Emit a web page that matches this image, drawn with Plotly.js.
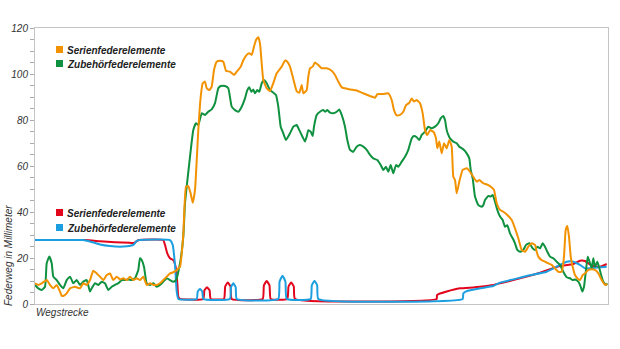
<!DOCTYPE html>
<html>
<head>
<meta charset="utf-8">
<script src="https://cdn.plot.ly/plotly-3.0.1.min.js"></script>
<style>html,body{margin:0;padding:0;background:#fff;}#chart{width:620px;height:349px;}</style>
</head>
<body>
<div id="chart"></div>
<script>
// Federweg (mm) entlang der Wegstrecke (x: arbitrary distance units)
const serienX = [0,3.3,6.7,11.7,15,18.3,21.7,25,26.7,28.3,31.7,35,40,45,48.3,51.7,55,58.3,61.7,65,68.3,71.7,75,78.3,81.7,85,88.3,91.7,95,98.3,101.7,105,108.3,111.7,115,118.3,121.7,125,128.3,131.7,135,138.3,141.7,145,148.3,151,153.3,155.7,157.7,160,163.3,165.7,167.7,170,171.7,174.3,176.7,179,181.7,185,188.3,191,195,199,201.7,205.7,208.3,211.7,214.3,216.7,219,221,223.3,225,226.7,228.3,231.7,235,238.3,241.7,246.7,250,252.3,255,258.3,261.7,264.3,266.7,268.3,271.7,273.3,275,277.7,280,283.3,286.7,291.7,296.7,300,303.3,306.7,310,315,321.7,328.3,335,340,342.3,348.3,353.3,356.7,359,361.7,365,368.3,371,374.3,376.7,379,381.7,385,387.7,390,392.3,395,398.3,401,402.3,404.3,406.7,409,411.7,414.3,416.7,418.3,420,421.7,424.3,427.7,431.7,435,438.3,441.7,444.3,448.3,453.3,456.7,459,461.7,465,468.3,472.3,476.7,480,483.3,486.7,490,493.3,496.7,500,501.7,503.3,506.7,510,513.3,516.7,520,523.3,526.7,529,530.7,532.3,534,535.7,537.7,540,542.3,545,547.7,550,553.3,556.7,560,563.3,566.7,570,572.3];
const serienY = [9.0,8.3,9.0,10.4,8.3,6.8,8.3,5.4,3.6,3.5,4.6,6.8,7.5,6.8,9.0,8.3,10.4,14.5,13.3,11.9,10.4,12.6,13.3,10.4,11.9,10.7,11.2,10.4,11.9,10.4,11.2,10.4,11.9,8.3,9.0,8.3,8.3,9.0,10.4,11.9,13.3,13.8,14.8,16.2,30,51,51.3,48,44,49.6,75.6,90,96,96.7,93.8,93,94.5,101.7,105.3,105.8,105.3,101.4,101,99.6,101,103.2,106,108.3,109,108.3,111.9,114.8,116,113.3,104.6,97.4,93.8,92.6,96,100.3,103.2,105.8,105.3,103.2,97.8,92.5,91.8,95.2,91.6,93,98.8,102.5,103.2,105,103.9,102.5,102.5,101.4,99.6,96.7,94.2,93.8,93.3,92.8,91.6,90.4,89.7,91.2,91.3,91.6,88.7,84.3,82,82.2,83.6,86.5,87.5,89.4,88,88.7,87.3,82.9,75.6,73.5,75.6,74.9,72,67.7,70.6,65.5,69.9,67.7,71.3,68.4,55.3,53.9,48.1,53.2,58.3,59,57.5,55.3,53.2,53.9,52.5,51.7,50.7,49.6,43.8,40.9,40.1,38.7,36.5,32.9,28.6,23.5,22.7,24.9,26.4,25.7,22.7,20.6,19.1,18.4,17.7,17,15.5,14,14,20.6,32.2,33.9,29.3,20.6,16.2,12.6,11.2,10.4,12.6,13.3,14.8,15.1,14.8,13.3,10.4,8.3,8.7];

const zubehoerX = [0,3.3,6.7,10,11.7,14.3,16.7,18.3,21.7,25,28.3,31.7,35,38.3,41.7,45,48.3,51.7,55,56.7,60,63.3,66.7,70,73.3,76.7,80,83.3,86.7,90,93.3,96.7,100,103.3,105,106.7,109,111.7,115,118.3,121.7,125,128.3,131.7,135,138.3,141,145,148.3,150,151.7,155,158.3,161,163.3,166.7,170,173.3,176.7,180,183.3,185.7,190,193.3,196.7,200,203.3,206.7,210,212.3,214.3,216.3,218.3,220,222.3,224.3,226.7,229,231.7,235,238.3,241,243.3,245.7,248.3,251,255,258.3,261.7,264.3,267.7,270,271.7,273.3,275.7,277.7,279,281.7,285,288.3,290,292.3,295,298.3,301.7,304.3,306.7,310,312.3,315,318.3,321.7,325,328.3,331.7,335,338.3,342.3,345.7,348.3,351,353.3,355.7,358.3,361,363.3,366.7,370,373.3,376.7,379,381.7,384.3,386.7,390,393.3,396.7,400,403.3,405.7,408.3,410,411.7,413.3,415,418.3,421.7,424.3,426.7,429,431.7,434.3,435.7,437.7,440,443.3,446.7,448.3,450,453.3,455.7,457.7,460,462.3,465,467.7,470,472.3,475,477.7,480,482.3,485,488.3,491,494.3,497.7,500,502.3,505,507.7,510,512.3,515,518.3,521.7,525,528.3,531.7,535,537.7,540,543.3,545.7,547.3,549,551,552.7,555,556.7,558.3,560,562.3,564,565.7,568.3,571,572.3];
const zubehoerY = [8.3,6.8,6.1,7.5,17.7,20.6,17.7,11.9,10.4,8.3,6.8,10.4,11.9,9.0,10.4,8.3,9.7,10.4,5.4,6.8,9.0,8.3,9.7,9.0,6.1,7.5,8.3,9.0,10.4,10.4,10.7,10.4,11.2,14.8,19.9,19.1,16.2,9.0,8.3,9.0,7.5,8.3,9.7,11.2,10.4,9.7,10.4,17.7,29.3,43.8,51,64,75.6,78.6,77.8,82.9,82.2,83.6,84.6,87.3,93.8,94.8,94.8,93.8,85.8,84.3,83.6,85.8,89.4,93,94.2,92.3,93.3,91.6,93,92.3,96,97.4,96,93,91.9,90.9,85.8,77.1,74.2,71.3,74.2,77.1,77.8,75.6,72.5,70.6,72.8,75.6,74.9,73,77.1,82.2,83.6,84.3,83.6,84.3,83.2,82.9,83.6,84.6,82.2,77.1,71.3,67,66.2,68.4,69.1,68.4,67,64.8,63.3,62.6,60.4,58.3,59.7,57.5,60.4,56.8,60.4,59.7,61.9,64,67,72,73,72.5,71.3,73.5,74.9,77.1,76.4,77.1,78.6,80.7,81.7,80,75.6,73.5,72,70.6,69.9,68.4,67.7,67,65.5,63.3,58.3,54.6,46.7,43,42.3,43,45.2,47,46.7,47.4,44.5,40.9,38,36.5,33.6,34.3,30.7,28.6,26.4,23.5,22.7,23.5,25.7,26.4,24.2,23.5,24.9,24.2,26.4,24.9,22.7,20.6,19.9,18.4,17,14,11.6,11.2,10.4,10.7,9.7,7.5,5.4,7.5,14.8,20.6,17.7,15.5,19.9,16.2,18.4,16.2,13.3,9.7,8.3,9.0];

const serienUntenX = [0,50,65,80,95,99,102,104,128.3,130,132.3,135,138.3,141,142.5,143.3,145,168.3,169.4,172,174.6,175.7,189,190.2,192.8,195.5,196.7,227.7,228.9,231.7,234.5,235.7,252.3,253.5,256.2,258.8,260,401.7,402,411.7,425,438.3,445,458.3,465,478.3,491.7,505,515,525,538.3,545,550,553.3,558.3,565,571.7];
const serienUntenY = [27.8,27.8,27.3,26.9,26.6,26.5,27.4,27.8,27.8,25.7,22,19.9,19.1,15.5,8,3.2,2.2,2.2,5.9,7.3,5.9,2.2,2.2,7.6,9.4,7.6,2.2,2.2,8.1,10,8.1,2.2,2.2,7.6,9.4,7.6,2.2,2.2,3.9,5.4,6.8,7.2,7.5,8.3,9.0,10.4,11.9,13.6,15.1,16.5,17.4,18.8,18.7,17.7,16.5,16.2,17.4];

const zubehoerUntenX = [0,48,55,65,75,85,92,98.3,101.7,105,135,137.7,140,141.7,143.3,161.7,162.7,165,167.3,168.3,195,196,198.3,200.7,201.7,243.3,244.6,247.5,250.4,251.7,275.7,276.8,279.5,282.2,283.3,427.7,428.3,431.7,445,458.3,465,478.3,491.7,511.7,525,531.7,538.3,545,550,558.3,565,571.7];
const zubehoerUntenY = [27.8,27.8,27.2,25.9,25.2,24.9,25.1,25.7,27.4,27.8,27.8,25.7,17,5.4,2.2,2.2,5.4,6.5,5.4,2.2,2.2,7.3,9,7.3,2.2,2.2,9.8,12.3,9.8,2.2,2.2,8.1,10.1,8.1,2.2,2.2,4.6,5.6,6.8,7.8,9.3,10.7,12.2,14,17,18.4,18.4,17,15.5,15.6,16,16.2];

const yTicks = [0,20,40,60,80,100,120];
const legendOben = ["Serienfederelemente","Zubehörfederelemente"];
const legendUnten = ["Serienfederelemente","Zubehörfederelemente"];

const C_OR = '#f39200', C_GR = '#0f9140', C_RD = '#e3051b', C_BL = '#1b9fe0';
const FONT = "'Liberation Sans', Arial, sans-serif";

// pixel helpers for layout placement (plot area 35..608 x, 28..304 y)
const L = 35, R = 608, T = 28, B = 304;
const px = v => (v - L) / (R - L);
const py = v => (B - v) / (B - T);

function tr(x, y, c) {
  return {x: x, y: y, type: 'scatter', mode: 'lines',
          line: {color: c, width: 2, shape: 'spline', smoothing: 0.4},
          hoverinfo: 'skip', showlegend: false};
}
const data = [
  tr(serienUntenX, serienUntenY, C_RD),
  tr(zubehoerUntenX, zubehoerUntenY, C_BL),
  tr(zubehoerX, zubehoerY, C_GR),
  tr(serienX, serienY, C_OR)
];

function sq(x0, y0, c) {
  return {type: 'rect', xref: 'paper', yref: 'paper', x0: px(x0), x1: px(x0 + 7),
          y0: py(y0 + 7), y1: py(y0), fillcolor: c, line: {width: 0}};
}
function lab(txt, y) {
  return {xref: 'paper', yref: 'paper', x: px(65), y: py(y), xanchor: 'left', yanchor: 'middle',
          showarrow: false, text: '<b><i>' + txt + '</i></b>', font: {family: FONT, size: 10, color: '#222'}};
}

const layout = {
  width: 620, height: 349,
  margin: {l: L, r: 620 - R, t: T, b: 349 - B},
  paper_bgcolor: '#fff', plot_bgcolor: '#fff',
  showlegend: false,
  xaxis: {range: [0, 573], showgrid: false, zeroline: false, showticklabels: false, ticks: '',
          showline: true, linecolor: '#c4c4c4', linewidth: 1, mirror: true, fixedrange: true},
  yaxis: {range: [0, 120], tickvals: yTicks, ticktext: yTicks.map(String), showgrid: false, zeroline: false,
          ticks: 'outside', ticklen: 4, tickcolor: '#aaa', tickwidth: 1,
          minor: {dtick: 5, ticks: 'outside', ticklen: 4, tickcolor: '#aaa', tickwidth: 1, showgrid: false},
          tickfont: {family: FONT, size: 10, color: '#333', style: 'italic'},
          showline: true, linecolor: '#c4c4c4', linewidth: 1, mirror: true, fixedrange: true},
  shapes: [sq(56, 46, C_OR), sq(56, 60, C_GR), sq(56, 209, C_RD), sq(56, 224, C_BL)],
  annotations: [
    lab(legendOben[0], 50), lab(legendOben[1], 64),
    lab(legendUnten[0], 213), lab(legendUnten[1], 228),
    {xref: 'paper', yref: 'paper', x: px(8), y: py(256), xanchor: 'center', yanchor: 'middle',
     textangle: -90, showarrow: false, text: '<i>Federweg in Millimeter</i>',
     font: {family: FONT, size: 10, color: '#333'}},
    {xref: 'paper', yref: 'paper', x: px(34), y: py(312), xanchor: 'left', yanchor: 'middle',
     showarrow: false, text: '<i>Wegstrecke</i>', font: {family: FONT, size: 10, color: '#333'}}
  ]
};
Plotly.newPlot('chart', data, layout, {staticPlot: true, displayModeBar: false});
</script>
</body>
</html>
